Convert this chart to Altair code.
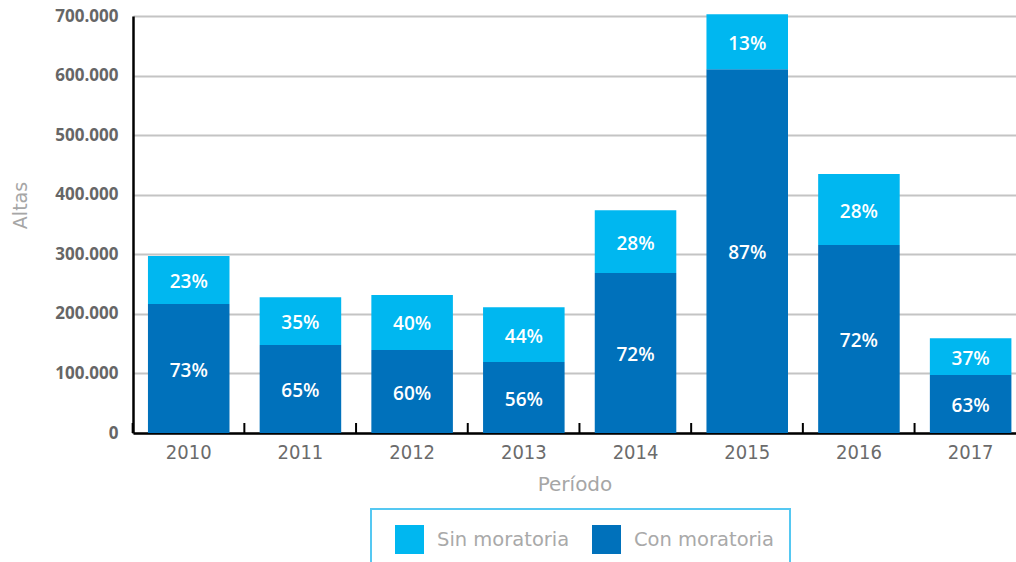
import altair as alt
import pandas as pd

years = ["2010", "2011", "2012", "2013", "2014", "2015", "2016", "2017"]
con_moratoria = [216500, 147700, 139300, 119000, 268600, 610500, 315600, 97400]
sin_moratoria = [80500, 80000, 92500, 92000, 105500, 92500, 119000, 61500]
con_labels = ["73%", "65%", "60%", "56%", "72%", "87%", "72%", "63%"]
sin_labels = ["23%", "35%", "40%", "44%", "28%", "13%", "28%", "37%"]

series = ["Sin moratoria", "Con moratoria"]
colors = ["#00b7f0", "#0071bb"]

rows = []
for i, y in enumerate(years):
    rows.append({"year": y, "serie": "Con moratoria", "value": con_moratoria[i], "label": con_labels[i], "ord": 0})
    rows.append({"year": y, "serie": "Sin moratoria", "value": sin_moratoria[i], "label": sin_labels[i], "ord": 1})
df = pd.DataFrame(rows)

W, H = 883, 417

xscale = alt.Scale(domain=years, paddingInner=0.27, paddingOuter=0.0875, align=0.765)
yscale = alt.Scale(domain=[0, 700000], nice=False)

x_enc = alt.X(
    "year:N", scale=xscale, sort=years, title="Período",
    axis=alt.Axis(
        labelFont="DejaVu Sans Condensed",
        labelFontSize=20, labelColor="#6b6b6b", labelPadding=9, labelAngle=0,
        ticks=False, domainColor="#000000", domainWidth=2.5,
        titleFont="DejaVu Sans",
        titleFontSize=20, titleColor="#a6a6a6", titleFontWeight="normal", titlePadding=12,
    ),
)

y_axis = alt.Axis(
    values=[0, 100000, 200000, 300000, 400000, 500000, 600000, 700000],
    labelExpr="replace(format(datum.value, ','), ',', '.')",
    labelFont="Open Sans", labelFontSize=17, labelFontWeight="bold", labelColor="#666666",
    labelPadding=15, ticks=False, domainColor="#000000", domainWidth=2.5,
    gridColor="#c4c4c4", gridWidth=2,
    titleFont="DejaVu Sans", titleFontSize=19, titleFontWeight="normal", titleColor="#a6a6a6",
    titleX=-113, titleY=189, titleAngle=270, titleAlign="center", titleBaseline="middle",
)

bars = alt.Chart(df).mark_bar().encode(
    x=x_enc,
    y=alt.Y("value:Q", stack="zero", scale=yscale, axis=y_axis, title="Altas"),
    color=alt.Color(
        "serie:N",
        scale=alt.Scale(domain=series, range=colors),
        legend=alt.Legend(
            title=None, orient="none", legendX=238, legendY=493, direction="horizontal",
            symbolType="square", symbolSize=841, symbolStrokeWidth=0, symbolOpacity=1,
            symbolOffset=8,
            labelFont="DejaVu Sans", labelFontSize=19.5, labelColor="#a9a9a9", labelOffset=13,
            columnPadding=14, padding=16, strokeColor="#55c8f2",
        ),
    ),
    order=alt.Order("ord:Q", sort="ascending"),
)

texts = alt.Chart(df).transform_stack(
    stack="value", groupby=["year"], as_=["y0", "y1"], sort=[alt.SortField("ord", order="ascending")]
).transform_calculate(
    mid="(datum.y0 + datum.y1) / 2"
).mark_text(
    color="white", font="Open Sans", fontSize=19, fontWeight=600, baseline="middle", dy=2
).encode(
    x=alt.X("year:N", scale=xscale, sort=years),
    y=alt.Y("mid:Q", scale=yscale, title="Altas"),
    text="label:N",
)

ticks = alt.Chart(pd.DataFrame({"year": years})).mark_rule(
    color="#000000", strokeWidth=2, xOffset=-15.3
).encode(
    x=alt.X("year:N", scale=xscale, sort=years, bandPosition=0),
    y=alt.value(H - 10),
    y2=alt.value(H),
)

chart = alt.layer(bars, texts, ticks).properties(
    width=W, height=H,
    autosize=alt.AutoSizeParams(type="none"),
    padding={"left": 133, "top": 16, "right": 0, "bottom": 129},
).configure_view(stroke=None).configure_legend(strokeWidth=2)

chart.save("out.html", embed_options={"renderer": "svg", "actions": False})
